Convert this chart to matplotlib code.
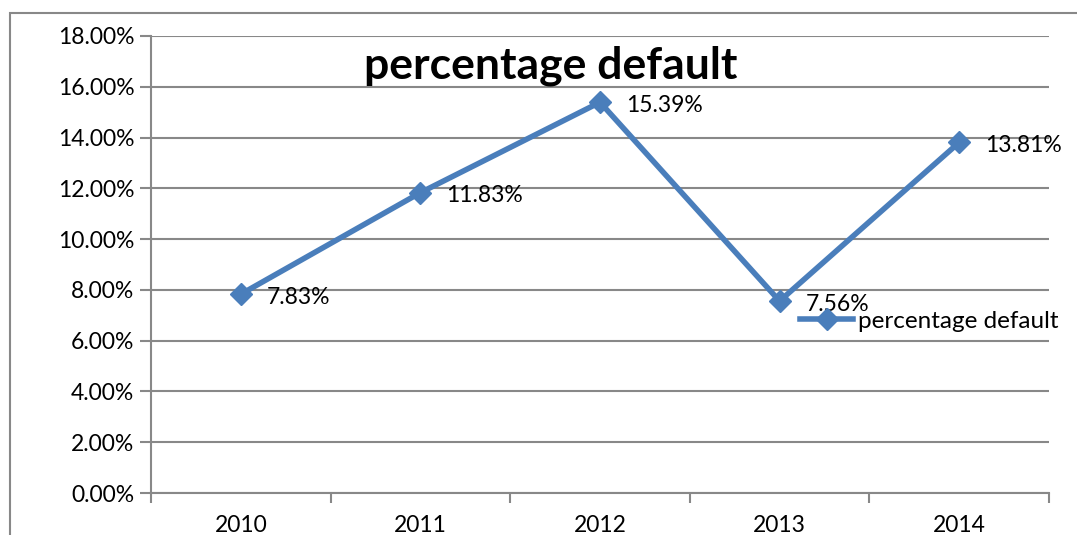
import matplotlib
matplotlib.use('Agg')
import matplotlib.pyplot as plt
from matplotlib.patches import Rectangle
from matplotlib.ticker import FuncFormatter

# data
years = ['2010', '2011', '2012', '2013', '2014']
pct_default = [7.83, 11.83, 15.39, 7.56, 13.81]
series_name = 'percentage default'

blue = '#4A7EBB'
grey = '#888888'

plt.rcParams['font.family'] = ['Lato', 'DejaVu Sans']

fig = plt.figure(figsize=(10.77, 5.35), dpi=100)
# outer chart border (cut off at right and bottom)
fig.patches.append(Rectangle((10 / 1077, -0.1), 1.2, 1.1 - 13 / 535, transform=fig.transFigure,
                             fill=False, edgecolor=grey, linewidth=1.5, clip_on=False))

ax = fig.add_axes([151 / 1077, 1 - 493 / 535, 898 / 1077, 457 / 535])
x = list(range(len(years)))
ax.plot(x, pct_default, color=blue, linewidth=4, marker='D', markersize=11.5, label=series_name)

for xi, v in zip(x, pct_default):
    ax.annotate('%.2f%%' % v, (xi, v), xytext=(26, -3), textcoords='offset pixels',
                ha='left', va='center', fontsize=16.5)

ax.set_xlim(-0.5, 4.5)
ax.set_ylim(0, 18)
ax.set_yticks(range(0, 19, 2))
ax.yaxis.set_major_formatter(FuncFormatter(lambda v, p: '%.2f%%' % v))
ax.set_xticks(x)
ax.set_xticklabels(years)
ax.set_xticks([i - 0.5 for i in range(len(years) + 1)], minor=True)
ax.tick_params(axis='x', which='major', length=0, pad=16, labelsize=16.5)
ax.tick_params(axis='x', which='minor', length=7, width=1.5, color=grey)
ax.tick_params(axis='y', length=8, width=1.5, color=grey, labelsize=16.5, pad=4)
ax.grid(axis='y', color=grey, linewidth=1.5)
ax.set_axisbelow(True)
for s in ['top', 'right']:
    ax.spines[s].set_visible(False)
for s in ['left', 'bottom']:
    ax.spines[s].set_color(grey)
    ax.spines[s].set_linewidth(1.5)

fig.text(551 / 1077, 1 - 66 / 535, 'percentage default', ha='center', va='center',
         fontsize=32, fontweight='bold')

ax.legend(loc='center left', bbox_to_anchor=(800 / 1077, 1 - 321 / 535), bbox_transform=fig.transFigure,
          frameon=False, fontsize=17.5, handlelength=2.2, handletextpad=0.2, borderpad=0, borderaxespad=0)

fig.savefig('out.png', dpi=100)
